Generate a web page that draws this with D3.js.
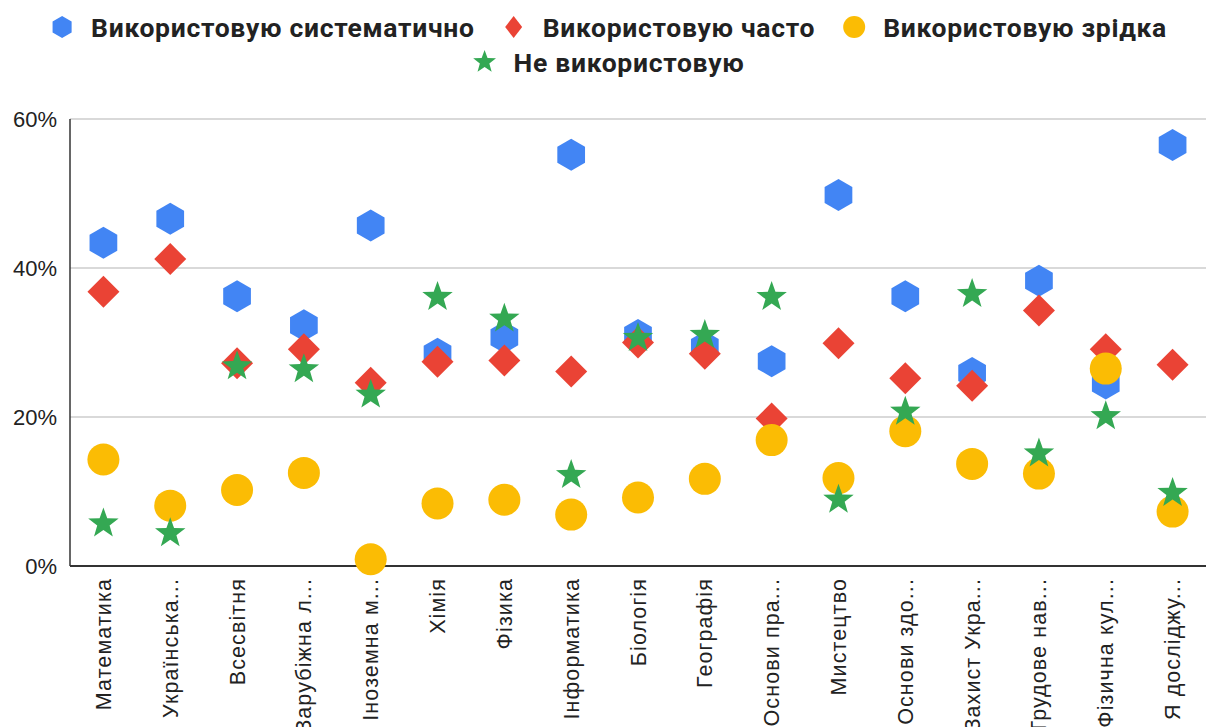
<!DOCTYPE html>
<html><head><meta charset="utf-8">
<script src="https://cdn.jsdelivr.net/npm/d3@7"></script>
<style>body{margin:0;background:#fff}svg{display:block}</style>
</head><body>
<svg id="c" width="1208" height="727"></svg>
<script>
const categories = ["Математика","Українська...","Всесвітня","Зарубіжна л...","Іноземна м...","Хімія","Фізика","Інформатика","Біологія","Географія","Основи пра...","Мистецтво","Основи здо...","Захист Укра...","Трудове нав...","Фізична кул...","Я досліджу..."];
const systematic = [43.4,46.6,36.2,32.3,45.7,28.5,30.7,55.2,31.0,29.4,27.5,49.8,36.2,25.9,38.3,24.5,56.5];
const often      = [36.8,41.2,27.2,29.1,24.6,27.4,27.6,26.1,30.0,28.5,19.8,29.9,25.2,24.2,34.3,29.1,27.0];
const rarely     = [14.3,8.1,10.2,12.5,0.9,8.4,8.9,6.9,9.2,11.7,16.9,11.8,18.1,13.7,12.4,26.5,7.3];
const never      = [5.7,4.4,26.8,26.4,23.0,36.1,33.2,12.2,30.6,31.0,36.1,8.9,20.7,36.5,15.1,20.1,9.8];
const yTicks = [0,20,40,60];
const seriesNames = ["Використовую систематично","Використовую часто","Використовую зрідка","Не використовую"];
const seriesColors = ["#4285f4","#ea4335","#fbbc04","#34a853"];

const svg = d3.select("#c");
const L=70, R=1206, T=119, B=566;
const x = d3.scaleBand().domain(categories).range([L,R]);
const y = d3.scaleLinear().domain([0,60]).range([B,T]);

// gridlines
svg.append("g").selectAll("line").data(yTicks.filter(d=>d>0)).join("line")
  .attr("x1",L).attr("x2",R).attr("y1",d=>y(d)).attr("y2",d=>y(d))
  .attr("stroke","#cccccc").attr("stroke-width",1.3);

// y labels
svg.append("g").selectAll("text").data(yTicks).join("text")
  .attr("x",57).attr("y",d=>y(d)).attr("dy","0.36em")
  .attr("text-anchor","end").attr("font-family","Liberation Sans, Arial, sans-serif")
  .attr("font-size",22).attr("fill","#222").text(d=>d+"%");

// axes lines
svg.append("line").attr("x1",L).attr("x2",L).attr("y1",T).attr("y2",B).attr("stroke","#333").attr("stroke-width",1.5);
svg.append("line").attr("x1",L).attr("x2",R).attr("y1",B).attr("y2",B).attr("stroke","#333").attr("stroke-width",1.8);

// x labels
svg.append("g").selectAll("text").data(categories).join("text")
  .attr("transform",d=>`translate(${x(d)+x.bandwidth()/2},578) rotate(-90)`)
  .attr("dy","0.35em").attr("text-anchor","end")
  .attr("font-family","Liberation Sans, Arial, sans-serif").attr("font-size",21.5)
  .attr("letter-spacing","1.1px").attr("fill","#222")
  .text(d=>d);

// symbols
const hex = r => { const p=[]; for(let i=0;i<6;i++){const a=Math.PI/3*i - Math.PI/2; p.push([r*Math.cos(a), r*Math.sin(a)]);} return "M"+p.map(q=>q.join(",")).join("L")+"Z"; };
const diamond = (r,rx) => `M0,${-r}L${rx||r},0L0,${r}L${-(rx||r)},0Z`;
const circle = r => `M${r},0A${r},${r} 0 1,1 ${-r},0A${r},${r} 0 1,1 ${r},0Z`;
const star = (R0,ri) => { const p=[]; for(let i=0;i<10;i++){const a=Math.PI/5*i - Math.PI/2; const rr=i%2?ri:R0; p.push([rr*Math.cos(a), rr*Math.sin(a)]);} return "M"+p.map(q=>q.join(",")).join("L")+"Z"; };
const shapes = [hex(16), diamond(16), circle(16), star(16,6.5)];
const data = [systematic, often, rarely, never];

data.forEach((vals,si)=>{
  svg.append("g").selectAll("path").data(vals).join("path")
    .attr("transform",(v,i)=>`translate(${x(categories[i])+x.bandwidth()/2},${y(v)})`)
    .attr("d",shapes[si]).attr("fill",seriesColors[si]);
});

// legend
const legendFont = "Roboto, Arial, sans-serif";
const rows = [[0,1,2],[3]];
const rowY = [27,62];
const legSyms = [hex(11), diamond(11,8.5), circle(11), star(12,5)];
rows.forEach((row,ri)=>{
  const g = svg.append("g");
  let cx = 0;
  row.forEach(si=>{
    const ig = g.append("g").attr("transform",`translate(${cx},${rowY[ri]})`);
    ig.append("path").attr("d",legSyms[si]).attr("fill",seriesColors[si]);
    const t = ig.append("text").attr("x",29).attr("dy","0.36em").attr("font-family",legendFont)
      .attr("font-weight","bold").attr("font-size",26.5).attr("letter-spacing","0.7px")
      .attr("fill","#222").text(seriesNames[si]);
    const w = t.node().getComputedTextLength();
    cx += 29 + w + 39;
  });
  const total = cx - 39 + 11;
  g.attr("transform",`translate(${609-total/2+11},0)`);
});
</script>
</body></html>
